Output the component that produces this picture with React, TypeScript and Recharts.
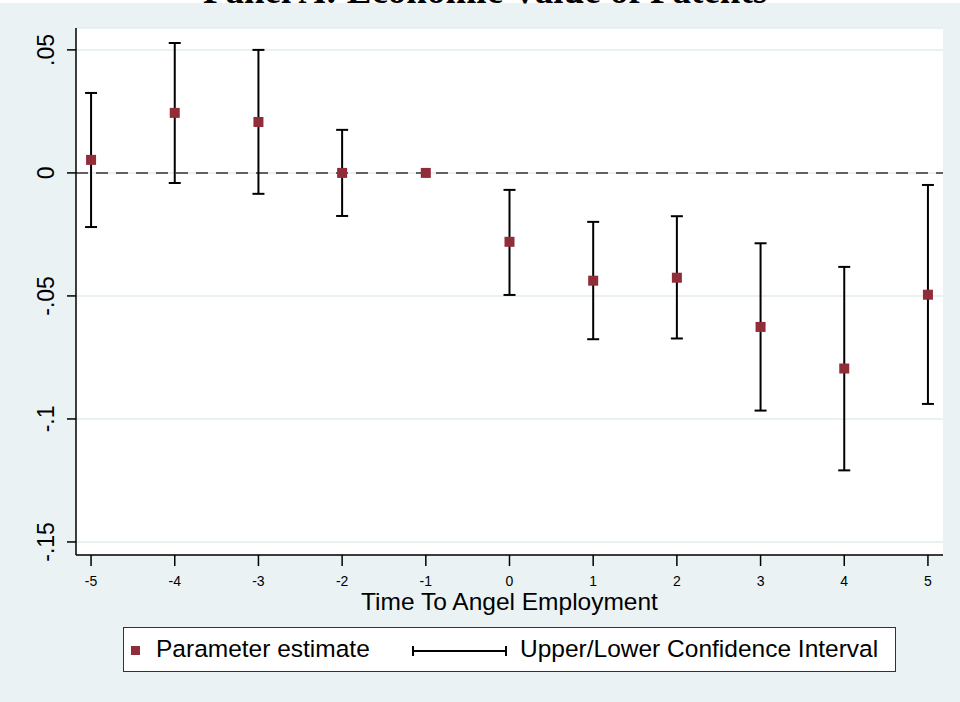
import React from 'react';
import { ComposedChart, Scatter, ErrorBar, XAxis, YAxis, CartesianGrid, ReferenceLine } from 'recharts';

// event-time periods and estimates
const periods = [-5, -4, -3, -2, -1, 0, 1, 2, 3, 4, 5];
const estimates = [0.0053, 0.0244, 0.0207, 0.0, 0.0, -0.028, -0.0438, -0.0426, -0.0626, -0.0795, -0.0495];
const ciUpper = [0.0325, 0.0528, 0.05, 0.0175, null, -0.0069, -0.0199, -0.0176, -0.0286, -0.0382, -0.0049];
const ciLower = [-0.022, -0.0041, -0.0085, -0.0175, null, -0.0496, -0.0676, -0.0673, -0.0966, -0.1209, -0.0939];

const yTicks = [-0.15, -0.1, -0.05, 0, 0.05];
const yTickLabels = ['-.15', '-.1', '-.05', '0', '.05'];

const FONT = '"Liberation Sans", Arial, sans-serif';
const MARKER = '#912c39';

const data = periods.map((t, i) => ({
  t,
  est: estimates[i],
  // ErrorBar wants [below, above] distances from the estimate
  err: ciLower[i] == null ? null : [estimates[i] - ciLower[i], ciUpper[i] - estimates[i]],
}));

const SquareDot = (props: any) => {
  const { cx, cy } = props;
  if (cx == null || cy == null) return null;
  return <rect x={cx - 5} y={cy - 5} width={10} height={10} fill={MARKER} />;
};

const YTick = (props: any) => {
  const { y, payload } = props;
  const idx = yTicks.indexOf(payload.value);
  const label = idx >= 0 ? yTickLabels[idx] : String(payload.value);
  return (
    <text
      x={0}
      y={0}
      transform={`translate(54, ${y}) rotate(-90)`}
      textAnchor="middle"
      fontSize={23}
      fontFamily={FONT}
      fill="#000"
    >
      {label}
    </text>
  );
};

export default function App() {
  return (
    <div
      style={{
        position: 'absolute',
        left: 0,
        top: 0,
        width: 960,
        height: 702,
        background: '#eaf2f3',
        overflow: 'hidden',
      }}
    >
      <div style={{ position: 'absolute', left: 0, top: 0, width: 960, height: 3, background: '#fff' }} />
      <svg width={960} height={20} style={{ position: 'absolute', left: 0, top: 0 }}>
        <text
          x={485}
          y={3}
          textAnchor="middle"
          fontSize={37}
          fontWeight="bold"
          fontFamily='"Liberation Serif", "Times New Roman", serif'
          fill="#000"
        >
          Panel A: Economic Value of Patents
        </text>
      </svg>

      <ComposedChart
        width={960}
        height={702}
        data={data}
        margin={{ top: 28, right: 17, bottom: 87, left: 0 }}
        style={{ position: 'absolute', left: 0, top: 0 }}
      >
        <CartesianGrid vertical={false} stroke="#e3ecef" strokeWidth={1.5} fill="#fff" />
        <XAxis
          type="number"
          dataKey="t"
          domain={[-5.18, 5.18]}
          ticks={periods}
          allowDataOverflow
          interval={0}
          height={60}
          tickSize={11}
          tickMargin={10}
          stroke="#000"
          strokeWidth={1.5}
          tick={{ fontSize: 14, fill: '#000', fontFamily: FONT }}
          label={{
            value: 'Time To Angel Employment',
            position: 'insideBottom',
            offset: 5,
            fontSize: 24.5,
            fill: '#000',
            fontFamily: FONT,
          }}
        />
        <YAxis
          type="number"
          domain={[-0.1553, 0.0589]}
          ticks={yTicks}
          allowDataOverflow
          interval={0}
          width={76}
          tickSize={9}
          stroke="#000"
          strokeWidth={1.5}
          tick={<YTick />}
        />
        <ReferenceLine y={0} stroke="#333" strokeWidth={1.5} strokeDasharray="12 8" />
        <Scatter dataKey="est" shape={<SquareDot />} isAnimationActive={false}>
          <ErrorBar dataKey="err" direction="y" width={6} stroke="#000" strokeWidth={2} isAnimationActive={false} />
        </Scatter>
      </ComposedChart>

      {/* legend */}
      <div
        style={{
          position: 'absolute',
          left: 123,
          top: 627,
          width: 773,
          height: 45,
          boxSizing: 'border-box',
          border: '1.5px solid #333',
          background: '#fff',
          fontFamily: FONT,
          fontSize: 24.5,
          color: '#000',
        }}
      >
        <div style={{ position: 'absolute', left: 7, top: 18, width: 9, height: 9, background: MARKER }} />
        <span style={{ position: 'absolute', left: 32, top: 7, lineHeight: '28px' }}>Parameter estimate</span>
        <svg width={96} height={14} style={{ position: 'absolute', left: 288, top: 16 }}>
          <line x1={1} y1={7} x2={94} y2={7} stroke="#000" strokeWidth={2} />
          <line x1={1} y1={2} x2={1} y2={12} stroke="#000" strokeWidth={2} />
          <line x1={94} y1={2} x2={94} y2={12} stroke="#000" strokeWidth={2} />
        </svg>
        <span style={{ position: 'absolute', left: 396, top: 7, lineHeight: '28px' }}>
          Upper/Lower Confidence Interval
        </span>
      </div>
    </div>
  );
}
